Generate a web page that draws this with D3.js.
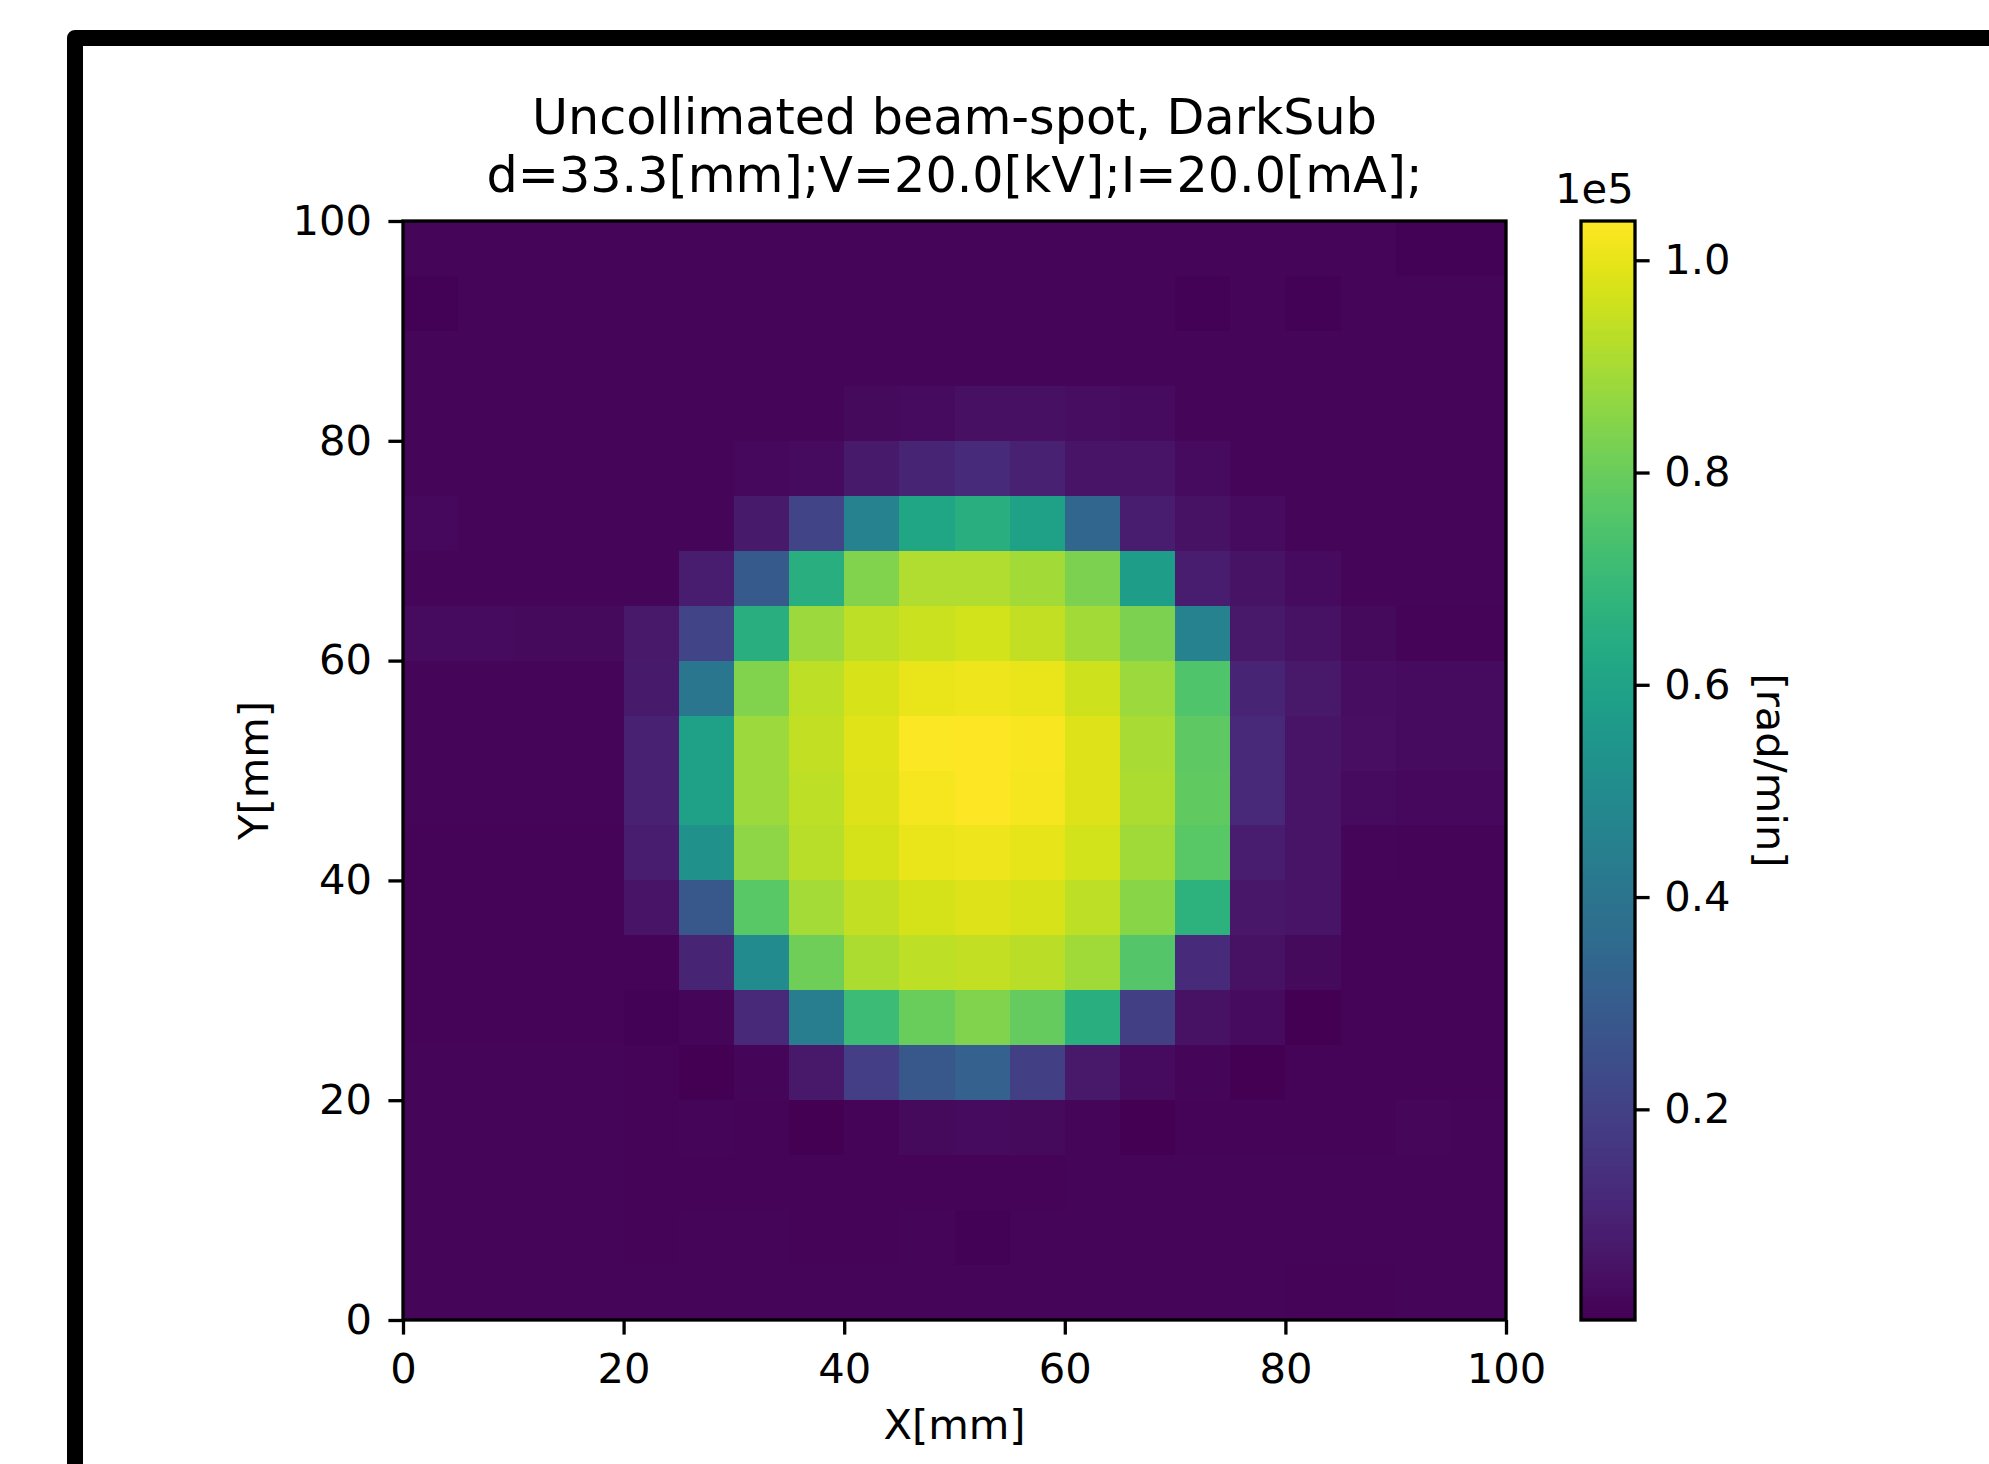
<!DOCTYPE html>
<html><head><meta charset="utf-8">
<script src="https://cdn.jsdelivr.net/npm/d3@7"></script>
<style>
body{margin:0;background:#fff}
svg{display:block}
text{font-family:"DejaVu Sans",sans-serif;fill:#000}
</style>
</head><body>
<svg id="chart" width="1989" height="1464"></svg>
<script>
// ---------- data ----------
const titleLines = ["Uncollimated beam-spot, DarkSub", "d=33.3[mm];V=20.0[kV];I=20.0[mA];"];
const xLabel = "X[mm]";
const yLabel = "Y[mm]";
const cbLabel = "[rad/min]";
const cbOffset = "1e5";
const xTicks = [0, 20, 40, 60, 80, 100];
const yTicks = [0, 20, 40, 60, 80, 100];
const cbTicks = [0.2, 0.4, 0.6, 0.8, 1.0];
const cellSize = 5;          // mm
const extent = [0, 100];     // mm
// dose rate in units of 1e5 rad/min, rows from top (Y=100) to bottom (Y=0), columns X=0..100
const values = [
 [0.017,0.017,0.017,0.017,0.017,0.017,0.017,0.017,0.017,0.017,0.017,0.017,0.017,0.017,0.017,0.017,0.017,0.017,0.008,0.008],
 [0.008,0.017,0.017,0.017,0.017,0.017,0.017,0.017,0.017,0.017,0.017,0.017,0.017,0.017,0.008,0.017,0.008,0.017,0.017,0.017],
 [0.017,0.017,0.017,0.017,0.017,0.017,0.017,0.017,0.017,0.017,0.017,0.017,0.017,0.017,0.017,0.017,0.017,0.017,0.017,0.017],
 [0.017,0.017,0.017,0.017,0.017,0.017,0.017,0.017,0.027,0.033,0.045,0.045,0.036,0.030,0.017,0.017,0.017,0.017,0.017,0.017],
 [0.017,0.017,0.017,0.017,0.017,0.017,0.022,0.032,0.074,0.105,0.126,0.095,0.058,0.058,0.033,0.017,0.017,0.017,0.017,0.017],
 [0.025,0.017,0.017,0.017,0.017,0.017,0.074,0.209,0.458,0.613,0.654,0.592,0.344,0.084,0.048,0.033,0.017,0.017,0.017,0.017],
 [0.017,0.017,0.017,0.017,0.017,0.084,0.292,0.654,0.841,0.914,0.914,0.893,0.831,0.572,0.084,0.053,0.033,0.017,0.017,0.017],
 [0.030,0.030,0.028,0.028,0.069,0.209,0.654,0.883,0.934,0.955,0.965,0.940,0.893,0.831,0.458,0.069,0.048,0.028,0.012,0.012],
 [0.017,0.017,0.017,0.017,0.074,0.406,0.841,0.934,0.976,1.002,1.012,1.002,0.960,0.883,0.753,0.105,0.069,0.035,0.030,0.030],
 [0.017,0.017,0.017,0.017,0.095,0.592,0.883,0.940,0.986,1.030,1.037,1.028,0.981,0.903,0.779,0.115,0.058,0.038,0.030,0.030],
 [0.017,0.017,0.017,0.017,0.095,0.592,0.883,0.934,0.981,1.022,1.036,1.022,0.981,0.908,0.784,0.115,0.058,0.033,0.022,0.022],
 [0.012,0.012,0.012,0.012,0.084,0.520,0.862,0.924,0.971,1.002,1.012,0.997,0.965,0.888,0.769,0.079,0.058,0.015,0.010,0.010],
 [0.010,0.010,0.010,0.010,0.058,0.281,0.769,0.898,0.940,0.971,0.981,0.976,0.934,0.852,0.665,0.064,0.058,0.012,0.010,0.010],
 [0.010,0.010,0.010,0.010,0.010,0.105,0.499,0.810,0.908,0.934,0.940,0.929,0.888,0.758,0.126,0.048,0.027,0.010,0.010,0.010],
 [0.010,0.010,0.010,0.010,0.006,0.017,0.115,0.437,0.706,0.800,0.841,0.794,0.654,0.193,0.048,0.033,0.0015,0.010,0.010,0.010],
 [0.017,0.017,0.017,0.017,0.012,0.0015,0.017,0.069,0.188,0.281,0.318,0.193,0.069,0.033,0.017,0.0015,0.012,0.012,0.012,0.012],
 [0.017,0.017,0.017,0.017,0.012,0.015,0.010,0.0015,0.010,0.027,0.033,0.027,0.015,0.0015,0.012,0.012,0.012,0.012,0.020,0.015],
 [0.017,0.017,0.017,0.017,0.010,0.012,0.012,0.012,0.012,0.012,0.010,0.010,0.017,0.017,0.017,0.017,0.017,0.017,0.017,0.017],
 [0.017,0.017,0.017,0.017,0.010,0.015,0.015,0.010,0.010,0.015,0.008,0.017,0.017,0.017,0.017,0.017,0.017,0.017,0.017,0.017],
 [0.017,0.017,0.017,0.017,0.017,0.017,0.017,0.017,0.017,0.017,0.017,0.017,0.017,0.017,0.017,0.017,0.010,0.010,0.017,0.017]
];

// ---------- layout ----------
const plot = {x0: 403, x1: 1506, y0: 221, y1: 1320};
const cb = {x0: 1581, x1: 1635};
const tickFont = 41.67, titleFont = 49.2, lw = 3.3, tickLen = 14.6;

const svg = d3.select("#chart");
svg.append("rect").attr("width", 1989).attr("height", 1464).attr("fill", "#fff");

// outer black frame (cut off on right and bottom)
svg.append("rect").attr("x", 75).attr("y", 38).attr("width", 3000).attr("height", 3000)
  .attr("fill", "none").attr("stroke", "#000").attr("stroke-width", 16).attr("stroke-linejoin", "round");

const x = d3.scaleLinear().domain(extent).range([plot.x0, plot.x1]);
const y = d3.scaleLinear().domain(extent).range([plot.y1, plot.y0]);
const flat = values.flat();
const vmin = d3.min(flat), vmax = d3.max(flat);
const color = d3.scaleSequential(d3.interpolateViridis).domain([vmin, vmax]);

// cells
const cells = [];
values.forEach((row, r) => row.forEach((v, c) => {
  const yTop = extent[1] - r * cellSize;
  cells.push({x0: c * cellSize, x1: (c + 1) * cellSize, yTop, yBot: yTop - cellSize, v});
}));
svg.append("g").attr("shape-rendering", "crispEdges")
  .selectAll("rect").data(cells).join("rect")
  .attr("x", d => x(d.x0)).attr("y", d => y(d.yTop))
  .attr("width", d => x(d.x1) - x(d.x0) + 0.5).attr("height", d => y(d.yBot) - y(d.yTop) + 0.5)
  .attr("fill", d => color(d.v));

// spines
svg.append("rect").attr("x", plot.x0).attr("y", plot.y0)
  .attr("width", plot.x1 - plot.x0).attr("height", plot.y1 - plot.y0)
  .attr("fill", "none").attr("stroke", "#000").attr("stroke-width", lw);

// axes
function styleAxis(g) {
  g.select(".domain").remove();
  g.selectAll(".tick line").attr("stroke", "#000").attr("stroke-width", lw);
  g.selectAll(".tick text").attr("font-size", tickFont).attr("font-family", "DejaVu Sans").attr("fill", "#000");
}
svg.append("g").attr("transform", `translate(0,${plot.y1})`)
  .call(d3.axisBottom(x).tickValues(xTicks).tickFormat(d3.format("d")).tickSize(tickLen).tickSizeOuter(0).tickPadding(18.8))
  .call(styleAxis);
svg.append("g").attr("transform", `translate(${plot.x0},0)`)
  .call(d3.axisLeft(y).tickValues(yTicks).tickFormat(d3.format("d")).tickSize(tickLen).tickSizeOuter(0).tickPadding(16.4))
  .call(styleAxis);

// title (two lines)
const titleBaselines = [134, 192];
titleLines.forEach((line, i) => {
  svg.append("text").attr("x", (plot.x0 + plot.x1) / 2).attr("y", titleBaselines[i])
    .attr("text-anchor", "middle").attr("font-size", titleFont).text(line);
});

// axis labels
svg.append("text").attr("x", (plot.x0 + plot.x1) / 2).attr("y", 1439).attr("text-anchor", "middle")
  .attr("font-size", tickFont).text(xLabel);
svg.append("text").attr("transform", `translate(268,${(plot.y0 + plot.y1) / 2}) rotate(-90)`)
  .attr("text-anchor", "middle").attr("font-size", tickFont).text(yLabel);

// colorbar
const cy = d3.scaleLinear().domain([vmin, vmax]).range([plot.y1, plot.y0]);
const nSteps = 300;
const steps = d3.range(nSteps).map(i => vmin + (vmax - vmin) * i / nSteps);
const stepH = (plot.y1 - plot.y0) / nSteps;
svg.append("g").attr("shape-rendering", "crispEdges")
  .selectAll("rect").data(steps).join("rect")
  .attr("x", cb.x0).attr("width", cb.x1 - cb.x0)
  .attr("y", d => cy(d) - stepH - 0.5).attr("height", stepH + 1)
  .attr("fill", d => color(d + (vmax - vmin) / nSteps / 2));
svg.append("rect").attr("x", cb.x0).attr("y", plot.y0).attr("width", cb.x1 - cb.x0).attr("height", plot.y1 - plot.y0)
  .attr("fill", "none").attr("stroke", "#000").attr("stroke-width", lw);
svg.append("g").attr("transform", `translate(${cb.x1},0)`)
  .call(d3.axisRight(cy).tickValues(cbTicks).tickFormat(d3.format(".1f")).tickSize(tickLen).tickSizeOuter(0).tickPadding(14.6))
  .call(styleAxis);
svg.append("text").attr("x", 1555).attr("y", 203).attr("font-size", tickFont).text(cbOffset);
svg.append("text").attr("transform", `translate(1757,${(plot.y0 + plot.y1) / 2}) rotate(90)`)
  .attr("text-anchor", "middle").attr("font-size", tickFont).text(cbLabel);
</script>
</body></html>
